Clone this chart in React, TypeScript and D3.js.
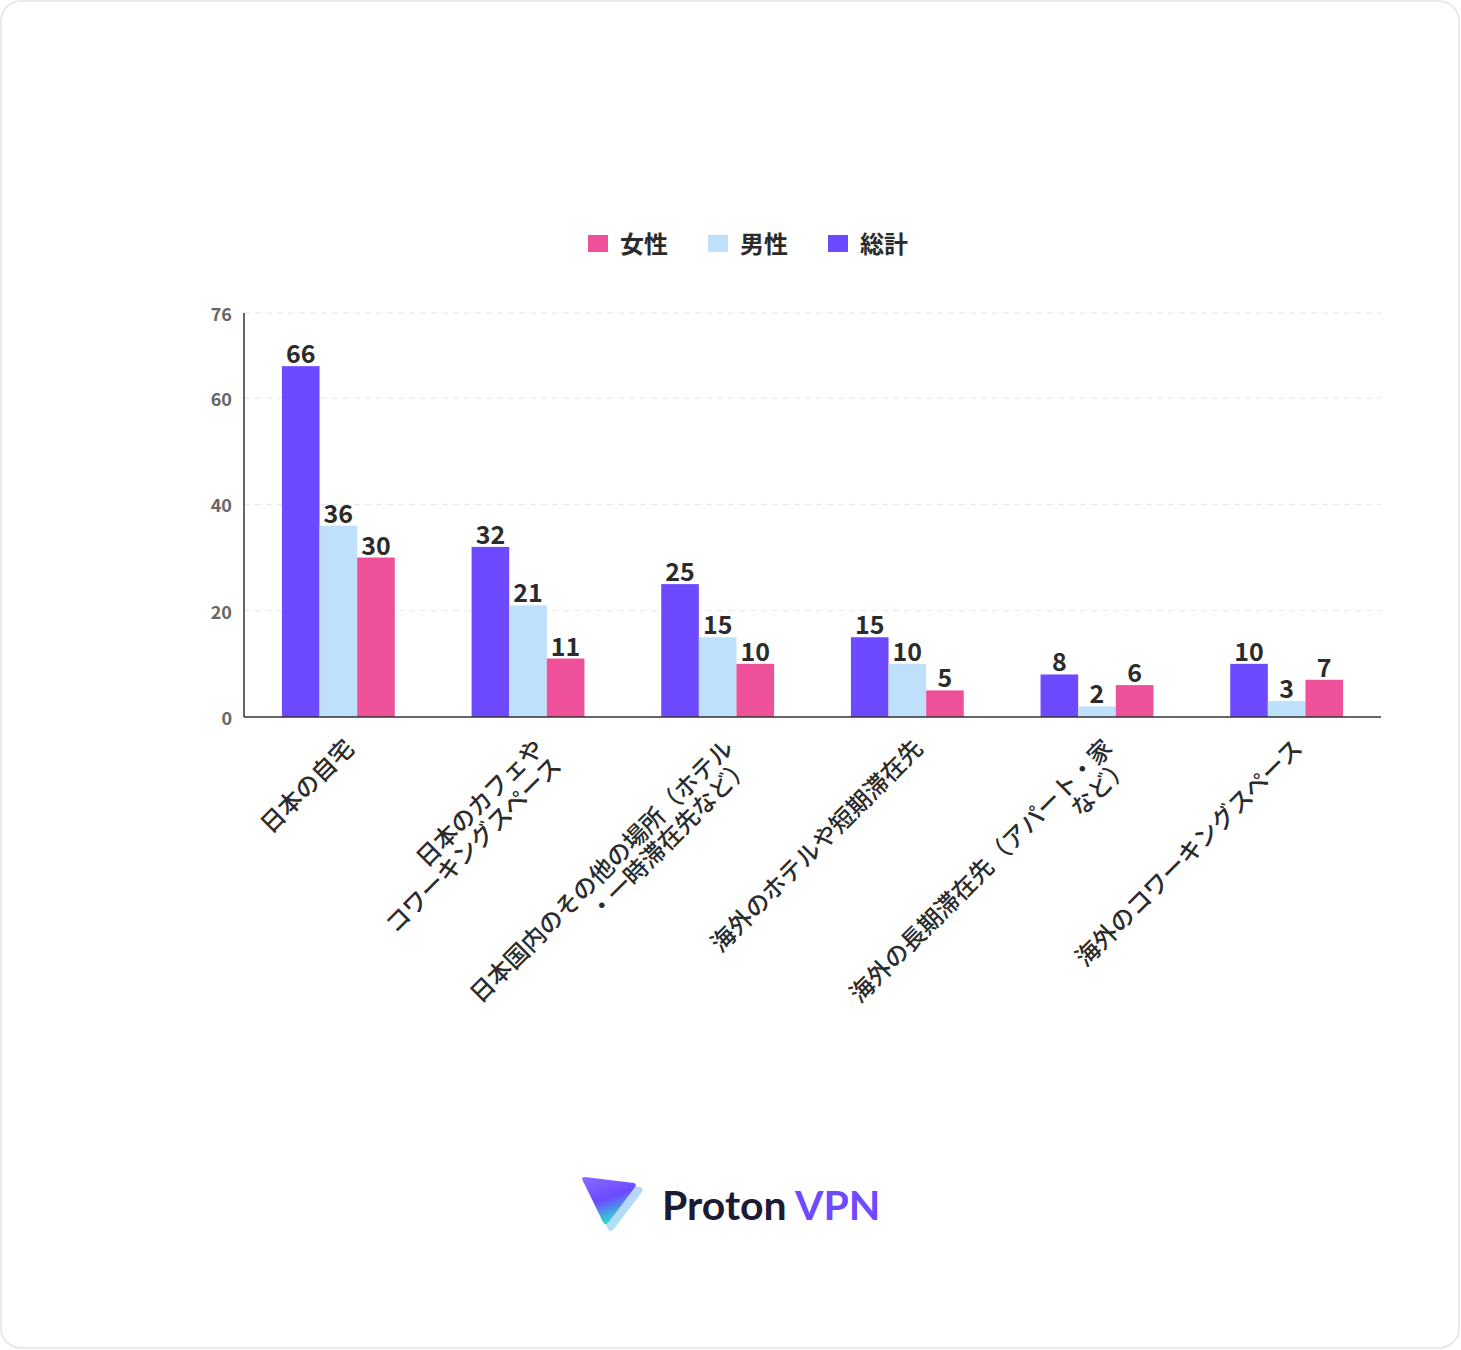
import React from "react";
import * as d3 from "d3";

const categories = [
  ["日本の自宅"],
  ["日本のカフェや", "コワーキングスペース"],
  ["日本国内のその他の場所（ホテル", "・一時滞在先など）"],
  ["海外のホテルや短期滞在先"],
  ["海外の長期滞在先（アパート・家", "など）"],
  ["海外のコワーキングスペース"],
];
const seriesNames = ["総計", "男性", "女性"];
const totalValues = [66, 32, 25, 15, 8, 10];
const maleValues = [36, 21, 15, 10, 2, 3];
const femaleValues = [30, 11, 10, 5, 6, 7];
const yTicks = [0, 20, 40, 60, 76];
const legendOrder = ["女性", "男性", "総計"];

const colors: Record<string, string> = {
  総計: "#6D4AFF",
  男性: "#BFE0FA",
  女性: "#EE5199",
};

const W = 1461;
const H = 1350;
const font = "'Noto Sans CJK JP', 'Noto Sans', sans-serif";

const App: React.FC = () => {
  const margin = { left: 244, right: 80, top: 313, bottom: 633 };
  const x0 = d3
    .scaleBand<number>()
    .domain(d3.range(categories.length))
    .range([margin.left, W - margin.right])
    .paddingInner(0.405)
    .paddingOuter(0.2);
  const x1 = d3
    .scaleBand<string>()
    .domain(seriesNames)
    .range([0, x0.bandwidth()]);
  const y = d3.scaleLinear().domain([0, 76]).range([H - margin.bottom, margin.top]);

  const valuesBySeries: Record<string, number[]> = {
    総計: totalValues,
    男性: maleValues,
    女性: femaleValues,
  };

  const step = x0.step();
  const centerOf = (i: number) => margin.left + step * (i + 0.5);

  return (
    <svg
      width={W}
      height={H}
      style={{ position: "absolute", left: 0, top: 0, background: "#fff" }}
      fontFamily={font}
    >
      <rect x={1} y={1} width={W - 3} height={H - 3} rx={20} fill="#fff" stroke="#e3e3e3" strokeWidth={1.5} />

      {/* legend */}
      <g>
        {legendOrder.map((name, i) => {
          const lx = 588 + i * 120;
          return (
            <g key={name} transform={`translate(${lx},0)`}>
              <rect x={0} y={235} width={20} height={17} fill={colors[name]} />
              <text x={32} y={242} dominantBaseline="central" fontSize={24} fontWeight={700} fill="#2b2b2b">
                {name}
              </text>
            </g>
          );
        })}
      </g>

      {/* grid */}
      {yTicks.filter((t) => t > 0).map((t) => (
        <line
          key={t}
          x1={margin.left}
          x2={W - margin.right}
          y1={y(t)}
          y2={y(t)}
          stroke="#e6e6e6"
          strokeDasharray="6,5"
        />
      ))}
      {yTicks.map((t) => (
        <text
          key={"t" + t}
          x={232}
          y={y(t)}
          textAnchor="end"
          dominantBaseline="central"
          fontSize={18}
          fontWeight={700}
          fill="#666"
        >
          {t}
        </text>
      ))}

      {/* bars */}
      {categories.map((_, i) => (
        <g key={i} transform={`translate(${x0(i)},0)`}>
          {seriesNames.map((s) => {
            const v = valuesBySeries[s][i];
            const bx = x1(s)!;
            return (
              <g key={s}>
                <rect x={bx} y={y(v)} width={x1.bandwidth()} height={y(0) - y(v)} fill={colors[s]} />
                <text
                  x={bx + x1.bandwidth() / 2}
                  y={y(v) - 3}
                  textAnchor="middle"
                  fontSize={25}
                  fontWeight={700}
                  fill="#2b2b2b"
                >
                  {v}
                </text>
              </g>
            );
          })}
        </g>
      ))}

      {/* axes */}
      <line x1={margin.left} x2={margin.left} y1={margin.top} y2={y(0)} stroke="#333" strokeWidth={1.5} />
      <line x1={margin.left} x2={W - margin.right} y1={y(0)} y2={y(0)} stroke="#333" strokeWidth={1.5} />

      {/* category labels */}
      {categories.map((lines, i) => (
        <text
          key={"c" + i}
          transform={`translate(${centerOf(i) + 9},742) rotate(-45)`}
          textAnchor="end"
          dominantBaseline="central"
          fontSize={24}
          fontWeight={500}
          fill="#2b2b2b"
        >
          {lines.map((l, j) => (
            <tspan key={j} x={0} dy={j === 0 ? 0 : 25}>
              {l}
            </tspan>
          ))}
        </text>
      ))}

      {/* logo */}
      <defs>
        <linearGradient id="lg1" x1="0" y1="0" x2="0.4" y2="1">
          <stop offset="0" stopColor="#8A6CFF" />
          <stop offset="0.55" stopColor="#6D4AFF" />
          <stop offset="1" stopColor="#2EDBD0" />
        </linearGradient>
        <linearGradient id="lg2" x1="0" y1="0" x2="1" y2="1">
          <stop offset="0" stopColor="#C8B8FF" />
          <stop offset="1" stopColor="#A8F0F0" />
        </linearGradient>
      </defs>
      <g transform="translate(582,1177)">
        <path d="M4,4 L58,10 Q62,11 60,15 L32,52 Q29,56 26,52 Z" fill="url(#lg2)" />
        <path d="M0,2 Q0,0 3,0 L52,6 Q55,7 53,10 L26,46 Q23,49 21,45 Z" fill="url(#lg1)" />
      </g>
      <text x={662} y={1220} fontFamily="Lato, 'Noto Sans', sans-serif" fontSize={41} fontWeight={700} fill="#1C1B33">
        Proton
      </text>
      <text x={795} y={1220} fontFamily="Lato, 'Noto Sans', sans-serif" fontSize={41} fontWeight={700} fill="#6D4AFF">
        VPN
      </text>
    </svg>
  );
};

export default App;
